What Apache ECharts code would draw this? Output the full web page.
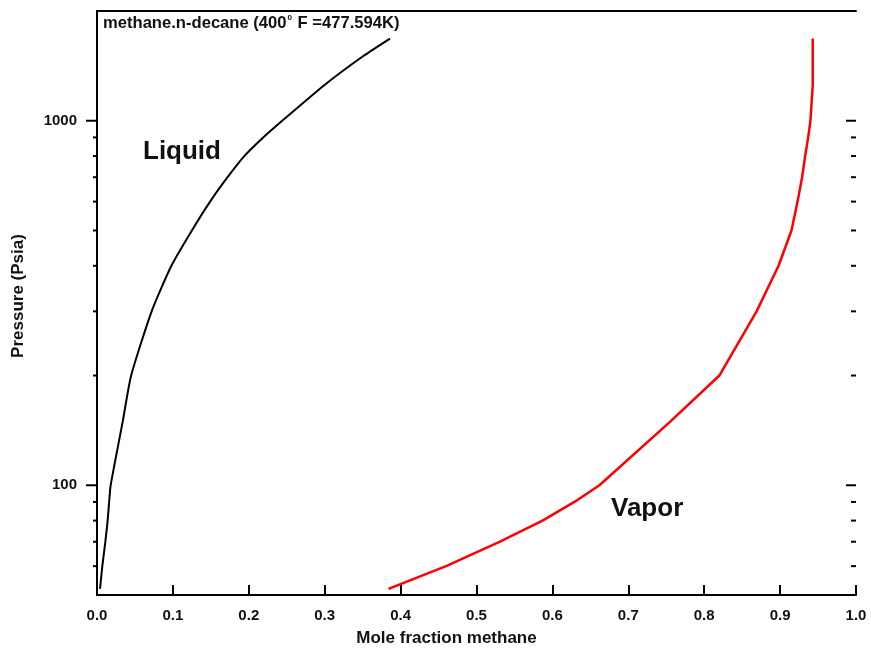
<!DOCTYPE html>
<html>
<head>
<meta charset="utf-8">
<title>methane.n-decane</title>
<script src="https://cdn.jsdelivr.net/npm/echarts@6.0.0/dist/echarts.min.js"></script>
<style>
  html, body { margin: 0; padding: 0; background: #fff; }
  #chart { width: 871px; height: 648px; }
</style>
</head>
<body>
<div id="chart"></div>
<script>
// pressure (psia) and mole fraction of methane in each phase
const pressure = [52, 60, 70, 80, 90, 100, 150, 200, 300, 400, 500, 600, 700, 800, 900, 1000, 1250, 1500, 1680];
const liquidX = [0.004, 0.007, 0.011, 0.014, 0.016, 0.018, 0.034, 0.045, 0.072, 0.098, 0.125, 0.149, 0.172, 0.194, 0.219, 0.244, 0.299, 0.350, 0.386];
const vaporX = [0.384, 0.460, 0.531, 0.587, 0.629, 0.662, 0.756, 0.820, 0.869, 0.898, 0.915, 0.923, 0.929, 0.933, 0.937, 0.940, 0.943, 0.943, 0.943];

// y axis ticks (log axis)
const majorTicks = [100, 1000];
const minorTicks = [60, 70, 80, 90, 200, 300, 400, 500, 600, 700, 800, 900];

const font = '"Liberation Sans", Arial, sans-serif';

const chart = echarts.init(document.getElementById('chart'));

const option = {
  animation: false,
  backgroundColor: '#fff',
  title: {
    left: 103,
    top: 14,
    padding: 0,
    text: '{a|methane.n-decane (400}{s|0}{a| F =477.594K)}',
    textStyle: {
      rich: {
        a: { fontFamily: font, fontWeight: 'bold', fontSize: 16.6, color: '#111' },
        s: { fontFamily: font, fontWeight: 'bold', fontSize: 8, color: '#111', padding: [0, 1, 10, 1] }
      }
    }
  },
  grid: { left: 97, right: 15, top: 11, bottom: 53, outerBoundsMode: 'none' },
  xAxis: [
    {
      type: 'value',
      min: 0,
      max: 1,
      interval: 0.1,
      name: 'Mole fraction methane',
      nameLocation: 'middle',
      nameGap: 35,
      nameTextStyle: { fontFamily: font, fontWeight: 'bold', fontSize: 17, color: '#111', padding: [0, 60, 0, 0] },
      axisLine: { lineStyle: { color: '#000', width: 2 } },
      axisTick: { inside: true, length: 10, lineStyle: { color: '#000', width: 2 } },
      axisLabel: {
        margin: 13,
        fontFamily: font, fontWeight: 'bold', fontSize: 15, color: '#111',
        formatter: v => v.toFixed(1)
      },
      splitLine: { show: false }
    },
    {
      type: 'value',
      position: 'top',
      min: 0,
      max: 1,
      axisLine: { show: true, lineStyle: { color: '#000', width: 2 } },
      axisTick: { show: false },
      axisLabel: { show: false },
      splitLine: { show: false }
    }
  ],
  yAxis: [
    {
      type: 'log',
      logBase: 10,
      min: 50,
      max: 2000,
      name: 'Pressure (Psia)',
      nameLocation: 'middle',
      nameGap: 70,
      nameTextStyle: { fontFamily: font, fontWeight: 'bold', fontSize: 17, color: '#111', padding: [0, 0, 0, 14] },
      axisLine: { show: true, lineStyle: { color: '#000', width: 2 } },
      axisTick: { show: false },
      axisLabel: {
        margin: 20,
        showMinLabel: false,
        showMaxLabel: false,
        fontFamily: font, fontWeight: 'bold', fontSize: 15, color: '#111',
        formatter: v => {
          const r = Math.round(v);
          return majorTicks.includes(r) ? String(r) : '';
        }
      },
      splitLine: { show: false }
    },
    {
      type: 'log',
      logBase: 10,
      min: 50,
      max: 2000,
      position: 'right',
      axisLine: { show: true, lineStyle: { color: '#000', width: 2 } },
      axisTick: { show: false },
      axisLabel: { show: false },
      splitLine: { show: false }
    }
  ],
  graphic: [
    {
      type: 'text', left: 143, top: 139,
      style: { text: 'Liquid', font: 'bold 26px ' + font, fill: '#111' }
    },
    {
      type: 'text', left: 611, top: 496,
      style: { text: 'Vapor', font: 'bold 26px ' + font, fill: '#111' }
    }
  ],
  series: [
    {
      name: 'Liquid',
      type: 'line',
      showSymbol: false,
      smooth: 0.2,
      data: pressure.map((p, i) => [liquidX[i], p]),
      lineStyle: { color: '#000', width: 2 }
    },
    {
      name: 'Vapor',
      type: 'line',
      showSymbol: false,
      data: pressure.map((p, i) => [vaporX[i], p]),
      lineStyle: { color: '#ff0000', width: 2.5 }
    },
    {
      // tick marks on the left (outward) and right (inward) log axes
      name: 'ticks',
      type: 'custom',
      silent: true,
      clip: false,
      data: majorTicks.concat(minorTicks).map(v => [0, v]),
      renderItem: (params, api) => {
        const v = api.value(1);
        const major = majorTicks.includes(v);
        const l = api.coord([0, v]);
        const r = api.coord([1, v]);
        const lenL = major ? 11 : 4;
        const lenR = major ? 10 : 5;
        const st = { stroke: '#000', lineWidth: 2 };
        return {
          type: 'group',
          children: [
            { type: 'line', shape: { x1: l[0] - lenL, y1: l[1], x2: l[0], y2: l[1] }, style: st },
            { type: 'line', shape: { x1: r[0] - lenR, y1: r[1], x2: r[0], y2: r[1] }, style: st }
          ]
        };
      }
    }
  ]
};

chart.setOption(option);
</script>
</body>
</html>
